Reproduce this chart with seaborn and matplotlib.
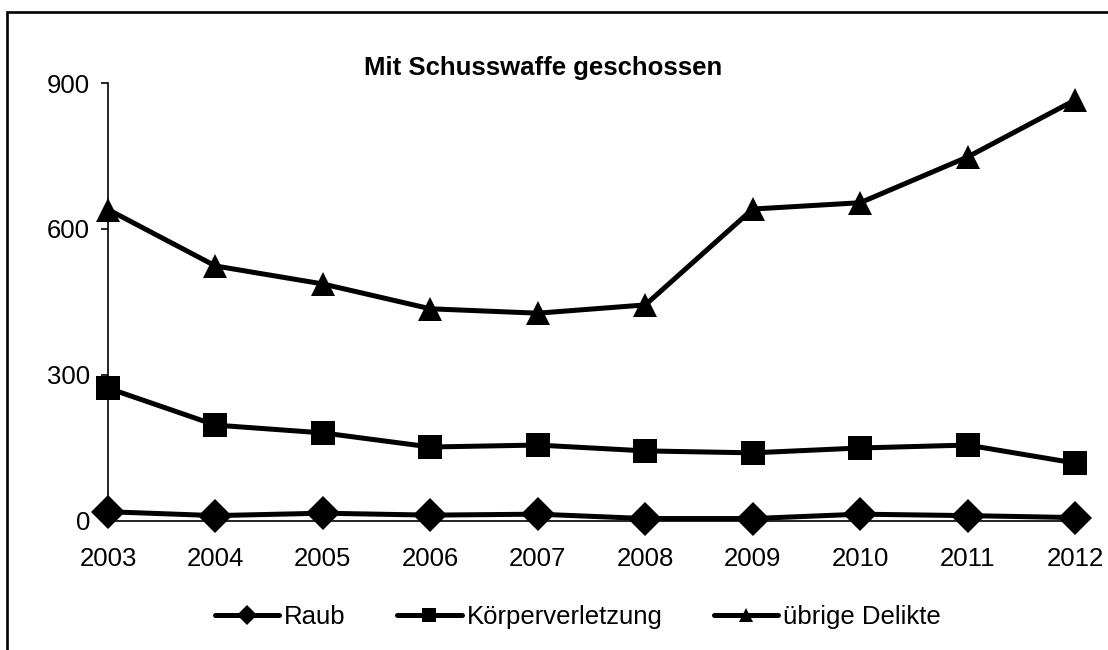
import pandas as pd
import seaborn as sns
import matplotlib.pyplot as plt
from matplotlib.patches import Rectangle

# -----------------------------------------------------------------------
# Data
# -----------------------------------------------------------------------
YEARS = [2003, 2004, 2005, 2006, 2007, 2008, 2009, 2010, 2011, 2012]
RAUB = [19, 11, 16, 12, 14, 5, 5, 14, 11, 7]
KOERPERVERLETZUNG = [273, 197, 181, 152, 156, 144, 140, 150, 156, 119]
UEBRIGE = [640, 524, 487, 436, 427, 444, 641, 654, 748, 865]

SERIES = ["Raub", "Körperverletzung", "übrige Delikte"]
Y_TICKS = [0, 300, 600, 900]
TITLE = "Mit Schusswaffe geschossen"

df = pd.DataFrame({
    "Jahr": YEARS * 3,
    "Anzahl": RAUB + KOERPERVERLETZUNG + UEBRIGE,
    "Delikt": [s for s in SERIES for _ in YEARS],
})

sns.set_theme(style="white")
plt.rcParams["font.family"] = ["Liberation Sans", "DejaVu Sans"]
plt.rcParams["text.color"] = "black"
plt.rcParams["xtick.color"] = "black"
plt.rcParams["ytick.color"] = "black"

fig = plt.figure(figsize=(11.08, 6.5), dpi=100)
ax = fig.add_axes([0.0975, 0.1985, 0.8728, 0.6738])

sns.lineplot(
    data=df, x="Jahr", y="Anzahl",
    hue="Delikt", style="Delikt", hue_order=SERIES, style_order=SERIES,
    palette=["black"] * 3,
    markers={"Raub": "D", "Körperverletzung": "s", "übrige Delikte": "^"},
    dashes=False, linewidth=3.6, markersize=17, markeredgewidth=0,
    ax=ax, clip_on=False,
)

ax.set_xlim(YEARS[0], YEARS[-1])
ax.set_ylim(0, 900)
ax.set_xticks(YEARS)
ax.set_xticklabels([str(y) for y in YEARS])
ax.set_yticks(Y_TICKS)
ax.set_xlabel("")
ax.set_ylabel("")

for side in ["top", "right"]:
    ax.spines[side].set_visible(False)
for side in ["left", "bottom"]:
    ax.spines[side].set_color("black")
    ax.spines[side].set_linewidth(1.2)

ax.tick_params(axis="y", direction="out", length=5, width=1.2, pad=8,
               labelsize=18.5, left=True, colors="black")
ax.tick_params(axis="x", direction="out", length=4, width=1.2, pad=15,
               labelsize=18.5, bottom=True, colors="black")

leg = ax.legend(
    loc="center", ncol=3, frameon=False,
    fontsize=18.5, handlelength=2.5, handletextpad=0.2,
    columnspacing=2.0, markerscale=0.6,
)
leg.set_bbox_to_anchor((578 / 1108, 1 - 617 / 650), transform=fig.transFigure)
for txt in leg.get_texts():
    txt.set_color("black")

fig.text(543 / 1108, 1 - 68 / 650, TITLE, ha="center", va="center",
         fontsize=18.5, fontweight="bold", color="black")

# outer chart frame (only top and left edges are inside the picture)
fig.patches.append(Rectangle(
    (7 / 1108, -0.1), 1.2, 1.1 - 12 / 650, transform=fig.transFigure,
    fill=False, edgecolor="black", linewidth=1.9,
))

fig.savefig("out.png", dpi=100)
